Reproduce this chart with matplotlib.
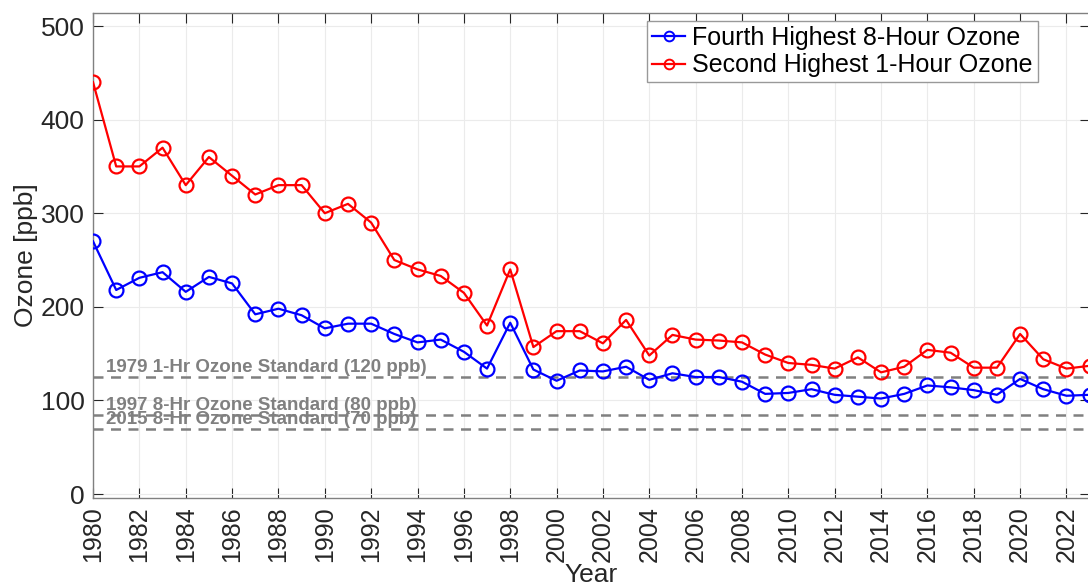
import numpy as np
import matplotlib
matplotlib.use('Agg')
import matplotlib.pyplot as plt

plt.rcParams['font.family'] = ['Liberation Sans', 'DejaVu Sans']

years = list(range(1980, 2024))

# Second highest 1-hour ozone (ppb)
second_1hr = [440, 350, 350, 370, 330, 360, 340, 320, 330, 330,
              300, 310, 290, 250, 240, 233, 215, 180, 240, 157,
              174, 174, 161, 186, 148, 170, 165, 164, 162, 149,
              140, 138, 134, 146, 130, 136, 154, 151, 135, 135,
              171, 144, 134, 137]

# Fourth highest 8-hour ozone (ppb)
fourth_8hr = [270, 218, 231, 237, 216, 232, 225, 192, 198, 191,
              177, 182, 182, 171, 162, 165, 152, 134, 183, 133,
              121, 132, 131, 136, 122, 129, 125, 125, 120, 107,
              108, 112, 106, 104, 102, 107, 116, 114, 111, 106,
              123, 112, 105, 106]

standards = [125, 84, 70]
standard_labels = ['1979 1-Hr Ozone Standard (120 ppb)',
                   '1997 8-Hr Ozone Standard (80 ppb)',
                   '2015 8-Hr Ozone Standard (70 ppb)']

axis_color = '#262626'

fig = plt.figure(figsize=(10.88, 5.87), dpi=100)
ax = fig.add_axes([0.0855, 0.152, 0.916, 0.826])

ax.plot(years, fourth_8hr, '-o', color='blue', lw=1.6, ms=10,
        mfc='none', mew=1.6, label='Fourth Highest 8-Hour Ozone', zorder=3)
ax.plot(years, second_1hr, '-o', color='red', lw=1.6, ms=10,
        mfc='none', mew=1.6, label='Second Highest 1-Hour Ozone', zorder=3)

for val, lab in zip(standards, standard_labels):
    ax.axhline(val, color='#808080', ls=(0, (4, 3)), lw=1.8, zorder=2)
    ax.text(1980.55, val + 1.0, lab, color='#808080', fontsize=13.5,
            fontweight='bold', va='bottom', ha='left', zorder=2)

ax.set_xlim(1980, 2023)
ax.set_ylim(-4, 514)
ax.set_xticks(range(1980, 2023, 2))
ax.set_yticks(range(0, 501, 100))
ax.tick_params(direction='in', top=True, right=True, length=7,
               colors=axis_color, width=0.8)
ax.tick_params(axis='x', labelrotation=90, pad=6, labelsize=18)
ax.tick_params(axis='y', pad=6, labelsize=19)
ax.grid(True, color='#ebebeb', lw=0.8)
ax.set_axisbelow(True)
for s in ax.spines.values():
    s.set_color('#808080')
    s.set_linewidth(1.0)

ax.set_xlabel('Year', fontsize=19, color=axis_color, labelpad=1)
ax.set_ylabel('Ozone [ppb]', fontsize=19, color=axis_color, labelpad=2)

leg = ax.legend(loc='upper right', bbox_to_anchor=(0.948, 0.984), fontsize=18,
                handlelength=1.3, handletextpad=0.3, borderpad=0.2,
                labelspacing=0.15, fancybox=False, framealpha=1,
                edgecolor='#999999', borderaxespad=0.0)
for h in leg.get_lines():
    h.set_markersize(7)
    h.set_markeredgewidth(1.4)

fig.savefig('out.png', dpi=100)
